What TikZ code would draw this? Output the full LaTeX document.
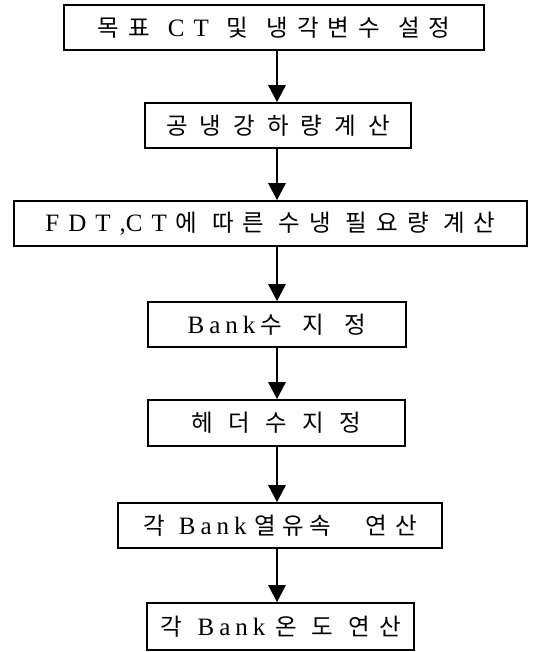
\documentclass[tikz,border=0pt]{standalone}
\usepackage{fontspec}
\setmainfont{Liberation Serif}
\newfontfamily\krf{Noto Sans CJK KR}
\usetikzlibrary{arrows.meta}
\newcommand\K[1]{{\fontsize{23.5}{27}\krf #1}}
\newcommand\s{\hspace{9pt}}
\newcommand\w{\hspace{18pt}}
\begin{document}
\begin{tikzpicture}[x=1pt,y=-1pt,
  box/.style={draw=black,line width=1.6pt,rectangle,inner sep=0pt,minimum height=45pt,font=\fontsize{25}{27}\selectfont},
  arr/.style={line width=2.6pt,-{Triangle[length=17pt,width=17pt]}}]
\useasboundingbox (0,0) rectangle (547,652);
\coordinate (ax) at (277,0);
\node[box,minimum width=420pt] (b1) at (274,27.5)
  {\K{목\s 표}\w C\s T\w \K{및\w 냉\s 각\s 변\s 수\w 설\s 정}};
\node[box,minimum width=266pt] (b2) at (278,125.5)
  {\renewcommand\s{\hspace{12pt}}\K{공\s 냉\s 강\s 하\s 량\s 계\s 산}};
\node[box,minimum width=513pt] (b3) at (270.5,223.5)
  {\renewcommand\w{\hspace{14.6pt}}F\s D\s T\s,C\s T\s \K{에\w 따\s 른\w 수\s 냉\w 필\s 요\s 량\w 계\s 산}};
\node[box,minimum width=258pt] (b4) at (277,324.5)
  {\renewcommand\s{\hspace{5pt}}\renewcommand\w{\hspace{20.5pt}}B\s a\s n\s k\s \K{수\w 지\w 정}};
\node[box,minimum width=257pt,minimum height=46pt] (b5) at (276.5,423)
  {\renewcommand\s{\hspace{15.5pt}}\K{헤\s 더\s 수\s 지\s 정}};
\node[box,minimum width=324pt] (b6) at (280,525.5)
  {\renewcommand\s{\hspace{5pt}}\K{각}\hspace{14pt}B\s a\s n\s k\hspace{8pt}\K{열\hspace{6pt}유\hspace{6pt}속\hspace{34pt}연\hspace{8pt}산}};
\node[box,minimum width=267pt,minimum height=47pt] (b7) at (280.5,626.5)
  {\renewcommand\s{\hspace{5pt}}\K{각}\hspace{16pt}B\s a\s n\s k\hspace{10pt}\K{온\hspace{14pt}도\hspace{16pt}연\hspace{9pt}산}};
\draw[arr] (b1.south -| ax) -- (b2.north -| ax);
\draw[arr] (b2.south -| ax) -- (b3.north -| ax);
\draw[arr] (b3.south -| ax) -- (b4.north -| ax);
\draw[arr] (b4.south -| ax) -- (b5.north -| ax);
\draw[arr] (b5.south -| ax) -- (b6.north -| ax);
\draw[arr] (b6.south -| ax) -- (b7.north -| ax);
\end{tikzpicture}
\end{document}
